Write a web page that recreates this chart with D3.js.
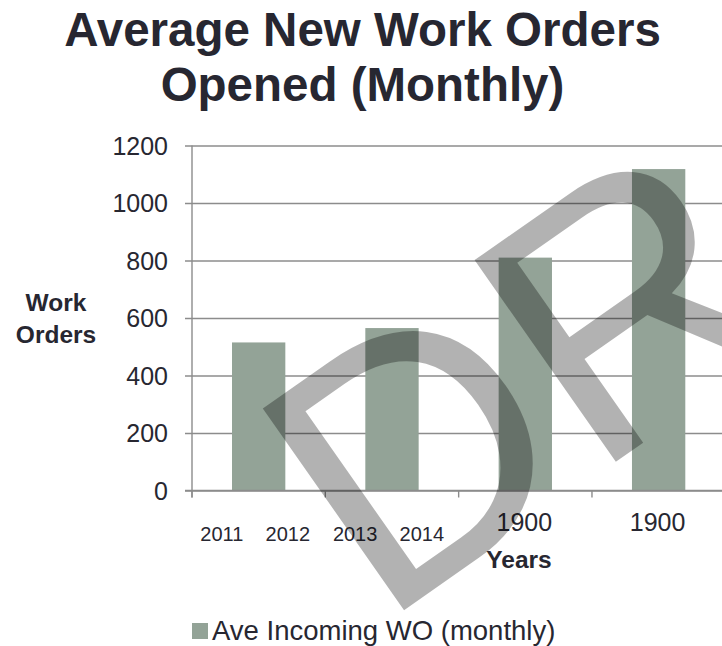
<!DOCTYPE html>
<html><head><meta charset="utf-8">
<script src="https://cdn.jsdelivr.net/npm/d3@7/dist/d3.min.js"></script>
<style>body{margin:0;background:#fff}svg{display:block}text{font-family:"Liberation Sans",Arial,sans-serif}</style>
</head><body>
<script>
const categories = ["2011 2012", "2013 2014", "1900", "1900"];
const values = [515, 565, 810, 1118];
const yTicks = [0, 200, 400, 600, 800, 1000, 1200];
const seriesName = "Ave Incoming WO (monthly)";
const titleLines = ["Average New Work Orders", "Opened (Monthly)"];
const xTitle = "Years";
const yTitle = ["Work", "Orders"];

const W = 722, H = 646;
const svg = d3.select("body").append("svg").attr("width", W).attr("height", H);
const ink = "#272731", grid = "#8c8c8c", barColor = "#93a397";

const x0 = 192, x1 = 725.3, yTop = 145.5, yBot = 490.5;
const y = d3.scaleLinear().domain([0, 1200]).range([yBot, yTop]);
const xBars = d3.scaleBand().domain(d3.range(categories.length)).range([x0, x1]).paddingInner(0.6).paddingOuter(0.3);
const xCat = d3.scaleBand().domain(d3.range(categories.length)).range([x0, x1]).padding(0);

// title
svg.append("g").selectAll("text").data(titleLines).join("text")
  .attr("x", 362.5).attr("y", (d, i) => 46 + i * 54.5)
  .attr("text-anchor", "middle").attr("font-size", 47.5).attr("font-weight", "bold")
  .attr("fill", ink).text(d => d);

// gridlines + y axis
const yAxis = d3.axisLeft(y).tickValues(yTicks).tickSize(-(W - x0 + 10)).tickPadding(24).tickFormat(d3.format("d"));
const gy = svg.append("g").attr("transform", `translate(${x0},0)`).call(yAxis);
gy.select(".domain").remove();
gy.selectAll(".tick line").attr("stroke", grid).attr("stroke-width", 1.4).attr("x1", -7);
gy.selectAll(".tick text").attr("font-size", 25).attr("fill", ink).attr("font-family", "Liberation Sans, Arial, sans-serif").attr("dy", "0.35em");

// bars
svg.append("g").selectAll("rect").data(values).join("rect")
  .attr("x", (d, i) => xBars(i)).attr("width", xBars.bandwidth())
  .attr("y", d => y(d)).attr("height", d => y(0) - y(d))
  .attr("fill", barColor);

// x axis
const gx = svg.append("g").attr("transform", `translate(0,${yBot})`);
gx.append("line").attr("x1", x0 - 7).attr("x2", W).attr("stroke", grid).attr("stroke-width", 1.4);
gx.selectAll("line.tk").data(d3.range(categories.length + 1)).join("line").attr("class", "tk")
  .attr("x1", i => x0 + i * xCat.step()).attr("x2", i => x0 + i * xCat.step())
  .attr("y1", 0).attr("y2", 7).attr("stroke", grid).attr("stroke-width", 1.4);
// y axis line
svg.append("line").attr("x1", x0).attr("x2", x0).attr("y1", yTop).attr("y2", yBot + 7)
  .attr("stroke", grid).attr("stroke-width", 1.4);

// x labels
svg.append("g").selectAll("text").data(categories).join("text")
  .attr("x", (d, i) => xCat(i) + xCat.bandwidth() / 2 - (d.includes(" ") ? 3.5 : 1))
  .attr("y", d => d.includes(" ") ? 541 : 531)
  .attr("text-anchor", "middle")
  .attr("font-size", d => d.includes(" ") ? 20 : 25)
  .attr("fill", ink)
  .style("white-space", "pre")
  .text(d => d.split(" ").join("    "));

// axis titles
svg.append("text").attr("x", 519).attr("y", 568).attr("text-anchor", "middle")
  .attr("font-size", 24.5).attr("font-weight", "bold").attr("fill", ink).text(xTitle);
svg.append("g").selectAll("text").data(yTitle).join("text")
  .attr("x", 56).attr("y", (d, i) => 311 + i * 32).attr("text-anchor", "middle")
  .attr("font-size", 24.5).attr("font-weight", "bold").attr("fill", ink).text(d => d);

// legend
svg.append("rect").attr("x", 192).attr("y", 623).attr("width", 16).attr("height", 16).attr("fill", barColor);
svg.append("text").attr("x", 212).attr("y", 640).attr("font-size", 27.5).attr("fill", ink).text(seriesName);

// watermark
svg.append("text").attr("transform", "translate(380,627) rotate(-35)")
  .attr("font-size", 358).attr("fill", "#000").attr("fill-opacity", 0.3)
  .text("DRAFT");
</script>
</body></html>
